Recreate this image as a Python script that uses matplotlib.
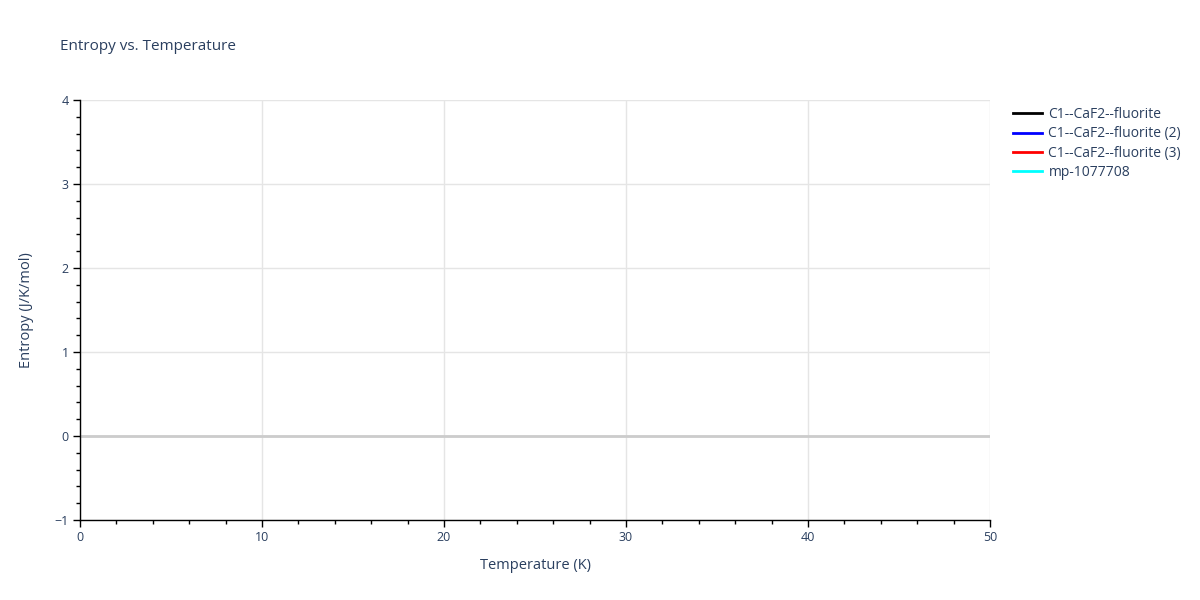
import matplotlib.pyplot as plt
from matplotlib.ticker import MultipleLocator
from matplotlib.lines import Line2D

# series names and colours (no data points visible in the range shown)
names = ["C1--CaF2--fluorite", "C1--CaF2--fluorite (2)", "C1--CaF2--fluorite (3)", "mp-1077708"]
colors = ["black", "blue", "red", "cyan"]
temps = [[], [], [], []]
entropy = [[], [], [], []]

txt = "#2a3f5f"
plt.rcParams['font.family'] = ['Open Sans', 'DejaVu Sans']

fig = plt.figure(figsize=(12, 6), dpi=100)
ax = fig.add_axes([80/1200, 80/600, 910/1200, 420/600])

for t, s, n, c in zip(temps, entropy, names, colors):
    ax.plot(t, s, color=c, lw=2, label=n)

ax.set_xlim(0, 50)
ax.set_ylim(-1, 4)
ax.xaxis.set_major_locator(MultipleLocator(10))
ax.xaxis.set_minor_locator(MultipleLocator(2))
ax.yaxis.set_major_locator(MultipleLocator(1))
ax.yaxis.set_minor_locator(MultipleLocator(0.2))
ax.grid(True, which='major', color='#e5e5e5', lw=1)
ax.axhline(0, color='#cccccc', lw=2, zorder=1)
ax.set_axisbelow(True)

for side in ['top', 'right']:
    ax.spines[side].set_visible(False)
for side in ['left', 'bottom']:
    ax.spines[side].set_color('black')
    ax.spines[side].set_linewidth(1)

ax.tick_params(which='major', direction='out', length=5, width=1, color='black',
               labelsize=9, labelcolor=txt, pad=3)
ax.tick_params(which='minor', direction='out', length=3, width=1, color='black')

ax.set_xlabel("Temperature (K)", fontsize=10.5, color=txt, labelpad=10)
ax.set_ylabel("Entropy (J/K/mol)", fontsize=10.5, color=txt, labelpad=15)
fig.text(60/1200, 1 - 46/600, "Entropy vs. Temperature", fontsize=11, color=txt, va='center')

handles = [Line2D([], [], color=c, lw=2) for c in colors]
leg = fig.legend(handles, names, loc='upper left', bbox_to_anchor=(1013/1200, 1 - 107/600),
                 frameon=False, fontsize=10, handlelength=2.1, labelspacing=0.32,
                 handletextpad=0.45, borderaxespad=0, borderpad=0)
for t in leg.get_texts():
    t.set_color(txt)

fig.savefig("out.png", dpi=100)
